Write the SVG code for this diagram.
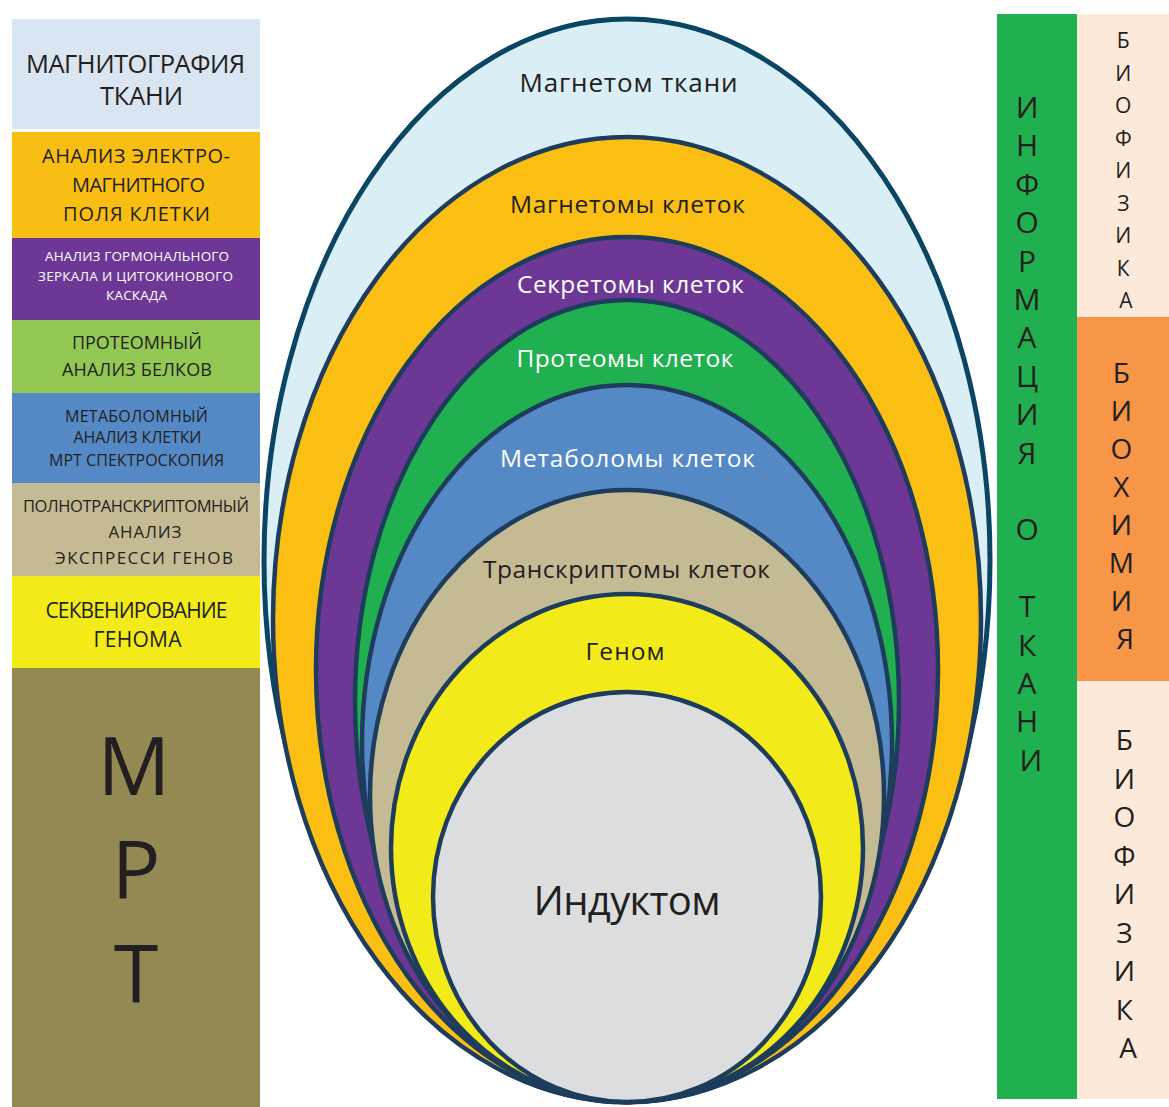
<svg xmlns="http://www.w3.org/2000/svg" width="1169" height="1107" viewBox="0 0 1169 1107">
  <style>
    text { font-family: "Open Sans", "Noto Sans", "Liberation Sans", sans-serif; fill: #231f20; }
    .mid { text-anchor: middle; }
    .w { fill: #ffffff; }
    .ring { stroke: #1e3d5c; stroke-width: 4.5; }
    .outer { stroke: #0a4564; stroke-width: 5; }
    .col { text-anchor: middle; }
  </style>

  <rect width="1169" height="1107" fill="#ffffff"/>

  <!-- Left column: methods of analysis -->
  <g id="m-magnetography">
    <rect x="12" y="19" width="248" height="110" fill="#d9e5f1"/>
    <text class="mid" x="135.5" y="73" font-size="25.5" textLength="219">МАГНИТОГРАФИЯ</text>
    <text class="mid" x="141.5" y="105" font-size="25.5" textLength="83">ТКАНИ</text>
  </g>
  <g id="m-em-field">
    <rect x="12" y="132" width="248" height="106" fill="#f9be13"/>
    <text class="mid" x="136" y="163" font-size="20" textLength="188">АНАЛИЗ ЭЛЕКТРО-</text>
    <text class="mid" x="138.5" y="192" font-size="20" textLength="133">МАГНИТНОГО</text>
    <text class="mid" x="136.5" y="221" font-size="20" textLength="147">ПОЛЯ  КЛЕТКИ</text>
  </g>
  <g id="m-hormonal">
    <rect x="12" y="238" width="248" height="82" fill="#6d3895"/>
    <text class="mid w" x="137" y="261" font-size="13.5" textLength="184">АНАЛИЗ ГОРМОНАЛЬНОГО</text>
    <text class="mid w" x="135.5" y="281" font-size="13.5" textLength="195">ЗЕРКАЛА И  ЦИТОКИНОВОГО</text>
    <text class="mid w" x="136.5" y="300" font-size="13.5" textLength="61">КАСКАДА</text>
  </g>
  <g id="m-proteome">
    <rect x="12" y="320" width="248" height="73" fill="#92c853"/>
    <text class="mid" x="137" y="349" font-size="18" textLength="130">ПРОТЕОМНЫЙ</text>
    <text class="mid" x="137" y="376" font-size="18" textLength="150">АНАЛИЗ БЕЛКОВ</text>
  </g>
  <g id="m-metabolome">
    <rect x="12" y="393" width="248" height="90" fill="#5589c6"/>
    <text class="mid" x="136.5" y="421.5" font-size="16" textLength="143">МЕТАБОЛОМНЫЙ</text>
    <text class="mid" x="137.5" y="443" font-size="16" textLength="128">АНАЛИЗ КЛЕТКИ</text>
    <text class="mid" x="136.5" y="465.5" font-size="16" textLength="175">МРТ СПЕКТРОСКОПИЯ</text>
  </g>
  <g id="m-transcriptome">
    <rect x="12" y="483" width="248" height="93" fill="#c4ba94"/>
    <text class="mid" x="136" y="511.5" font-size="16.5" textLength="226">ПОЛНОТРАНСКРИПТОМНЫЙ</text>
    <text class="mid" x="145" y="537.5" font-size="17" textLength="73">АНАЛИЗ</text>
    <text class="mid" x="144" y="564" font-size="17" textLength="178">ЭКСПРЕССИ ГЕНОВ</text>
  </g>
  <g id="m-sequencing">
    <rect x="12" y="576" width="248" height="92" fill="#f2ea19"/>
    <text class="mid" x="136.5" y="618" font-size="21" textLength="182">СЕКВЕНИРОВАНИЕ</text>
    <text class="mid" x="137.5" y="646.5" font-size="21" textLength="88">ГЕНОМА</text>
  </g>
  <g id="m-mri">
    <rect x="12" y="668" width="248" height="439" fill="#938953"/>
    <text class="mid" x="134" y="795" font-size="81">М</text>
    <text class="mid" x="136" y="899" font-size="81">Р</text>
    <text class="mid" x="136" y="1003" font-size="81">Т</text>
  </g>

  <!-- Nested layers, all touching at the bottom point -->
  <g id="l-tissue-magnetome">
    <ellipse class="outer" cx="627" cy="560.5" rx="363" ry="541.5" fill="#daeef6"/>
    <text class="mid" x="628.5" y="91.5" font-size="26" textLength="218">Магнетом ткани</text>
  </g>
  <g id="l-cell-magnetomes">
    <ellipse class="ring" cx="627" cy="619.5" rx="354" ry="482.5" fill="#fabf12"/>
    <text class="mid" x="627.5" y="212.5" font-size="24.5" textLength="235">Магнетомы клеток</text>
  </g>
  <g id="l-secretomes">
    <ellipse class="ring" cx="627" cy="669.5" rx="311" ry="432.5" fill="#6d3895"/>
    <text class="mid w" x="630.5" y="293" font-size="24.5" textLength="227">Секретомы клеток</text>
  </g>
  <g id="l-proteomes">
    <ellipse class="ring" cx="627" cy="701" rx="272" ry="401" fill="#21b04f"/>
    <text class="mid w" x="625" y="367" font-size="24.5" textLength="217">Протеомы клеток</text>
  </g>
  <g id="l-metabolomes">
    <ellipse class="ring" cx="627" cy="743.5" rx="265" ry="358.5" fill="#5589c6"/>
    <text class="mid w" x="627.5" y="466.5" font-size="24.5" textLength="255">Метаболомы клеток</text>
  </g>
  <g id="l-transcriptomes">
    <ellipse class="ring" cx="627" cy="796" rx="257" ry="306" fill="#c4ba94"/>
    <text class="mid" x="626.5" y="577.5" font-size="24.5" textLength="287">Транскриптомы клеток</text>
  </g>
  <g id="l-genome">
    <ellipse class="ring" cx="627" cy="848" rx="236" ry="254" fill="#f2ea19"/>
    <text class="mid" x="625" y="660" font-size="24.5" textLength="79">Геном</text>
  </g>
  <g id="l-inductome">
    <ellipse class="ring" cx="627" cy="897" rx="194" ry="205" fill="#dcdddf"/>
    <text class="mid" x="627" y="915" font-size="40" textLength="187">Индуктом</text>
  </g>

  <!-- Right side: information column and disciplines -->
  <g id="r-information" font-size="30">
    <rect x="997" y="14" width="80" height="1085" fill="#21b04f"/>
    <text class="col">
      <tspan x="1031" y="118">И</tspan>
      <tspan x="1031" y="156.4">Н</tspan>
      <tspan x="1031" y="194.8">Ф</tspan>
      <tspan x="1031" y="233.2">О</tspan>
      <tspan x="1031" y="271.6">Р</tspan>
      <tspan x="1031" y="310">М</tspan>
      <tspan x="1031" y="348.4">А</tspan>
      <tspan x="1031" y="386.8">Ц</tspan>
      <tspan x="1031" y="425.2">И</tspan>
      <tspan x="1031" y="463.6">Я</tspan>
      <tspan x="1031" y="540.4">О</tspan>
      <tspan x="1031" y="617.2">Т</tspan>
      <tspan x="1031" y="655.6">К</tspan>
      <tspan x="1031" y="694">А</tspan>
      <tspan x="1031" y="732.4">Н</tspan>
      <tspan x="1031" y="770.8">И</tspan>
    </text>
  </g>
  <g id="r-biophysics-top" font-size="21">
    <rect x="1077" y="14" width="92" height="303" fill="#fce9da"/>
    <text class="col">
      <tspan x="1126" y="48">Б</tspan>
      <tspan x="1126" y="80.5">И</tspan>
      <tspan x="1126" y="113">О</tspan>
      <tspan x="1126" y="145.5">Ф</tspan>
      <tspan x="1126" y="178">И</tspan>
      <tspan x="1126" y="210.5">З</tspan>
      <tspan x="1126" y="243">И</tspan>
      <tspan x="1126" y="275.5">К</tspan>
      <tspan x="1126" y="308">А</tspan>
    </text>
  </g>
  <g id="r-biochemistry" font-size="28">
    <rect x="1077" y="317" width="92" height="364" fill="#f79646"/>
    <text class="col">
      <tspan x="1125" y="383">Б</tspan>
      <tspan x="1125" y="421">И</tspan>
      <tspan x="1125" y="459">О</tspan>
      <tspan x="1125" y="497">Х</tspan>
      <tspan x="1125" y="535">И</tspan>
      <tspan x="1125" y="573">М</tspan>
      <tspan x="1125" y="611">И</tspan>
      <tspan x="1125" y="649">Я</tspan>
    </text>
  </g>
  <g id="r-biophysics-bottom" font-size="28">
    <rect x="1077" y="681" width="92" height="418" fill="#fce9da"/>
    <text class="col">
      <tspan x="1128" y="750">Б</tspan>
      <tspan x="1128" y="788.5">И</tspan>
      <tspan x="1128" y="827">О</tspan>
      <tspan x="1128" y="865.5">Ф</tspan>
      <tspan x="1128" y="904">И</tspan>
      <tspan x="1128" y="942.5">З</tspan>
      <tspan x="1128" y="981">И</tspan>
      <tspan x="1128" y="1019.5">К</tspan>
      <tspan x="1128" y="1058">А</tspan>
    </text>
  </g>

  <g id="connectors"/>
</svg>
